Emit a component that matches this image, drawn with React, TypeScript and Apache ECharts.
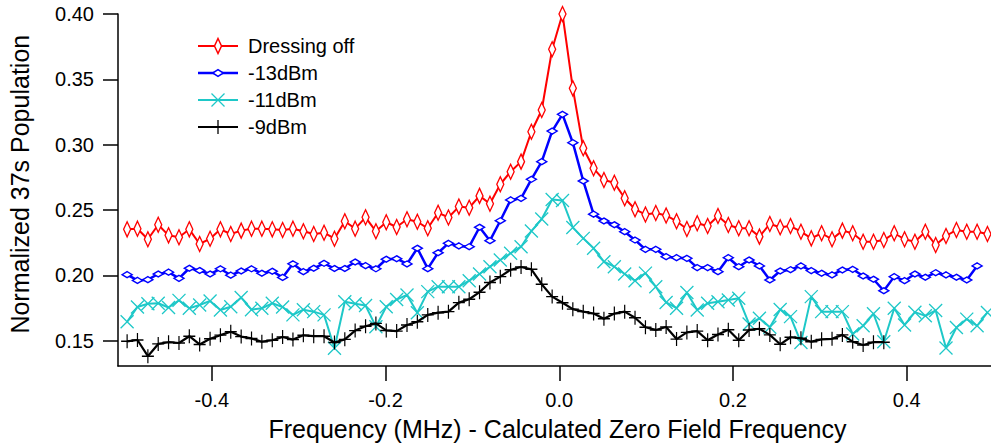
import React, { useEffect, useRef } from "react";
import * as echarts from "echarts";

// Frequency grid (MHz) shared by all traces
const FREQ = [
  -0.4975, -0.4856, -0.4736, -0.4617, -0.4498, -0.4378, -0.4259, -0.414, -0.402, -0.3901,
  -0.3782, -0.3662, -0.3543, -0.3424, -0.3304, -0.3185, -0.3066, -0.2946, -0.2827, -0.2708,
  -0.2588, -0.2469, -0.235, -0.223, -0.2111, -0.1992, -0.1872, -0.1753, -0.1634, -0.1514,
  -0.1395, -0.1276, -0.1156, -0.1037, -0.0918, -0.0798, -0.0679, -0.056, -0.044, -0.0321,
  -0.0202, -0.0082, 0.0037, 0.0156, 0.0276, 0.0395, 0.0514, 0.0634, 0.0753, 0.0872,
  0.0992, 0.1111, 0.123, 0.135, 0.1469, 0.1588, 0.1708, 0.1827, 0.1946, 0.2066,
  0.2185, 0.2304, 0.2424, 0.2543, 0.2662, 0.2782, 0.2901, 0.302, 0.314, 0.3259,
  0.3378, 0.3498, 0.3617, 0.3736, 0.3856, 0.3975, 0.4094, 0.4214, 0.4333, 0.4452,
  0.4572, 0.4691, 0.481, 0.4929,
];

const DRESSING_OFF = [
  0.2352, 0.2357, 0.2276, 0.2387, 0.2306, 0.2291, 0.2352, 0.224, 0.228, 0.2352,
  0.2316, 0.2342, 0.2357, 0.2357, 0.2352, 0.2347, 0.2357, 0.2337, 0.2316, 0.2326,
  0.228, 0.2414, 0.2357, 0.2444, 0.2337, 0.2406, 0.237, 0.2429, 0.241, 0.236,
  0.2479, 0.2443, 0.2526, 0.2517, 0.2608, 0.2548, 0.2697, 0.2793, 0.287, 0.3099,
  0.3265, 0.373, 0.4, 0.3431, 0.2972, 0.2819, 0.2729, 0.2709, 0.259, 0.2506,
  0.2465, 0.2477, 0.2458, 0.2414, 0.2355, 0.2398, 0.2377, 0.2454, 0.2385, 0.236,
  0.236, 0.2296, 0.2393, 0.2368, 0.2377, 0.2334, 0.2283, 0.2322, 0.2276, 0.2342,
  0.2322, 0.2257, 0.2257, 0.227, 0.2322, 0.2276, 0.2257, 0.2334, 0.2232, 0.2301,
  0.2347, 0.2334, 0.2334, 0.2316,
];

const DBM_13 = [
  0.2005, 0.1961, 0.1967, 0.201, 0.2024, 0.1977, 0.2054, 0.2037, 0.201, 0.205,
  0.2001, 0.2033, 0.205, 0.2016, 0.2031, 0.1984, 0.2088, 0.2028, 0.2054, 0.2092,
  0.2052, 0.2052, 0.2102, 0.2074, 0.205, 0.2123, 0.2127, 0.2087, 0.2207, 0.2051,
  0.2173, 0.2245, 0.2225, 0.2219, 0.2368, 0.2265, 0.2418, 0.2577, 0.2589, 0.2735,
  0.287, 0.3104, 0.3232, 0.3015, 0.2722, 0.2468, 0.2416, 0.2387, 0.2334, 0.227,
  0.2199, 0.2199, 0.2143, 0.2135, 0.213, 0.2059, 0.2059, 0.2028, 0.2135, 0.2066,
  0.2117, 0.2072, 0.1964, 0.2033, 0.2043, 0.2072, 0.2036, 0.2016, 0.2003, 0.2041,
  0.2046, 0.1995, 0.197, 0.1882, 0.199, 0.1959, 0.201, 0.1985, 0.202, 0.2003,
  0.1985, 0.1964, 0.2072,
];

const DBM_11 = [
  0.1645, 0.1758, 0.1783, 0.1786, 0.1754, 0.1808, 0.1748, 0.1773, 0.1804, 0.1735,
  0.176, 0.183, 0.1737, 0.1748, 0.1786, 0.1758, 0.1697, 0.1737, 0.1722, 0.1697,
  0.1442, 0.1798, 0.1783, 0.1769, 0.1607, 0.176, 0.1815, 0.185, 0.1714, 0.1875,
  0.1913, 0.1913, 0.1913, 0.1959, 0.201, 0.2066, 0.2117, 0.2169, 0.2219, 0.2339,
  0.2431, 0.258, 0.2573, 0.2366, 0.2283, 0.2207, 0.2104, 0.2066, 0.201, 0.1959,
  0.2017, 0.1913, 0.1792, 0.1748, 0.1869, 0.1735, 0.1786, 0.1798, 0.1811, 0.1824,
  0.1628, 0.1671, 0.1602, 0.1739, 0.1684, 0.1486, 0.1837, 0.1722, 0.1722, 0.1722,
  0.1551, 0.1614, 0.1706, 0.1492, 0.1748, 0.162, 0.1718, 0.169, 0.1731, 0.1444,
  0.1601, 0.1665, 0.1614, 0.1716,
];

const DBM_9 = [
  0.1495, 0.1505, 0.1381, 0.1475, 0.1488, 0.1482, 0.1534, 0.1471, 0.1514, 0.1542,
  0.1568, 0.1531, 0.1517, 0.1492, 0.1503, 0.1528, 0.1508, 0.1541, 0.1534, 0.1534,
  0.1486, 0.151, 0.1577, 0.161, 0.1632, 0.1578, 0.1573, 0.162, 0.1645, 0.1697,
  0.1714, 0.1722, 0.1791, 0.1817, 0.1871, 0.1945, 0.199, 0.2043, 0.2064, 0.2046,
  0.1932, 0.1837, 0.179, 0.1741, 0.1722, 0.1708, 0.1668, 0.1707, 0.1722, 0.1675,
  0.1603, 0.1582, 0.1605, 0.1512, 0.1563, 0.1573, 0.1503, 0.1547, 0.1584, 0.1503,
  0.1582, 0.1591, 0.1544, 0.1472, 0.1526, 0.1518, 0.1492, 0.151, 0.1514, 0.1544,
  0.1492, 0.1467, 0.1488, 0.1488,
];

const SERIES_NAMES = ["Dressing off", "-13dBm", "-11dBm", "-9dBm"];
const X_TICKS = [-0.4, -0.2, 0, 0.2, 0.4];
const Y_TICKS = [0.15, 0.2, 0.25, 0.3, 0.35, 0.4];
const X_TITLE = "Frequency (MHz) - Calculated Zero Field Frequency";
const Y_TITLE = "Normalized 37s Population";

const FONT = '"Liberation Sans", Arial, sans-serif';
const COLORS = ["#ff0000", "#0000ff", "#1ec8c8", "#000000"];

const X_PATH = "path://M0,0L12,12M12,0L0,12";
const PLUS_PATH = "path://M6,0L6,14M0,7L12,7";

export default function App() {
  const ref = useRef<HTMLDivElement>(null);

  useEffect(() => {
    if (!ref.current) return;
    const chart = echarts.init(ref.current, null, { renderer: "svg" });

    const toPairs = (vals: number[]) => vals.map((v, i) => [FREQ[i], v]);
    const allVals = [DRESSING_OFF, DBM_13, DBM_11, DBM_9];

    const symbolDefs = [
      { symbol: "diamond", size: [7, 15], fill: "#ffffff", width: 1.5 },
      { symbol: "diamond", size: [10, 6], fill: "#ffffff", width: 1.5 },
      { symbol: X_PATH, size: [13, 13], fill: "none", width: 1.3 },
      { symbol: PLUS_PATH, size: [12, 14], fill: "none", width: 1.3 },
    ];
    const lineWidths = [2, 2.5, 2, 2.2];

    const series = allVals.map((vals, k) => ({
      name: SERIES_NAMES[k],
      type: "line",
      data: toPairs(vals),
      color: COLORS[k],
      symbol: symbolDefs[k].symbol,
      symbolSize: symbolDefs[k].size,
      showAllSymbol: true,
      silent: true,
      lineStyle: { color: COLORS[k], width: lineWidths[k] },
      itemStyle: {
        color: symbolDefs[k].fill,
        borderColor: COLORS[k],
        borderWidth: symbolDefs[k].width,
      },
      emphasis: { disabled: true },
      z: 2 + k,
    }));

    // Legend drawn as graphics
    const legendEls: any[] = [];
    SERIES_NAMES.forEach((name, k) => {
      const y = 46 + 27 * k;
      const cx = 218;
      legendEls.push({
        type: "line",
        shape: { x1: 198, y1: y, x2: 238, y2: y },
        style: { stroke: COLORS[k], lineWidth: lineWidths[k] },
        z: 100,
      });
      if (k === 0 || k === 1) {
        const w = k === 0 ? 3.5 : 5.3;
        const h = k === 0 ? 7.5 : 3.3;
        legendEls.push({
          type: "polygon",
          shape: { points: [[cx, y - h], [cx + w, y], [cx, y + h], [cx - w, y]] },
          style: { fill: "#ffffff", stroke: COLORS[k], lineWidth: 1.5 },
          z: 101,
        });
      } else if (k === 2) {
        legendEls.push({
          type: "line",
          shape: { x1: cx - 6.5, y1: y - 6.5, x2: cx + 6.5, y2: y + 6.5 },
          style: { stroke: COLORS[k], lineWidth: 1.3 },
          z: 101,
        });
        legendEls.push({
          type: "line",
          shape: { x1: cx + 6.5, y1: y - 6.5, x2: cx - 6.5, y2: y + 6.5 },
          style: { stroke: COLORS[k], lineWidth: 1.3 },
          z: 101,
        });
      } else {
        legendEls.push({
          type: "line",
          shape: { x1: cx, y1: y - 7, x2: cx, y2: y + 7 },
          style: { stroke: COLORS[k], lineWidth: 1.3 },
          z: 101,
        });
      }
      legendEls.push({
        type: "text",
        x: 248,
        y: y,
        style: {
          text: name,
          font: `20px ${FONT}`,
          fill: "#000",
          textAlign: "left",
          textVerticalAlign: "middle",
          align: "left",
          verticalAlign: "middle",
        },
        z: 101,
      });
    });

    const titleEls = [
      {
        type: "text",
        x: 557.5,
        y: 428.6,
        style: {
          text: X_TITLE,
          font: `25px ${FONT}`,
          fill: "#000",
          textAlign: "center",
          textVerticalAlign: "middle",
          align: "center",
          verticalAlign: "middle",
        },
      },
      {
        type: "text",
        x: 19.6,
        y: 184.2,
        rotation: Math.PI / 2,
        style: {
          text: Y_TITLE,
          font: `25px ${FONT}`,
          fill: "#000",
          textAlign: "center",
          textVerticalAlign: "middle",
          align: "center",
          verticalAlign: "middle",
        },
      },
    ];

    chart.setOption({
      animation: false,
      backgroundColor: "#ffffff",
      grid: { left: 118, right: 0, top: 14, bottom: 82, containLabel: false },
      xAxis: {
        type: "value",
        min: -0.508,
        max: 0.497,
        axisLine: { show: true, onZero: false, lineStyle: { color: "#000", width: 1.5 } },
        axisTick: {
          show: true,
          inside: false,
          length: 15,
          customValues: X_TICKS,
          lineStyle: { color: "#000", width: 1.5 },
        },
        axisLabel: {
          show: true,
          customValues: X_TICKS,
          margin: 24,
          color: "#000",
          fontSize: 20,
          fontFamily: FONT,
          formatter: (v: number) => (Math.abs(v) < 1e-9 ? "0.0" : v.toFixed(1)),
        },
        splitLine: { show: false },
      },
      yAxis: {
        type: "value",
        min: 0.1306,
        max: 0.4,
        axisLine: { show: true, onZero: false, lineStyle: { color: "#000", width: 1.5 } },
        axisTick: {
          show: true,
          inside: false,
          length: 15,
          customValues: Y_TICKS,
          lineStyle: { color: "#000", width: 1.5 },
        },
        axisLabel: {
          show: true,
          customValues: Y_TICKS,
          margin: 24,
          color: "#000",
          fontSize: 20,
          fontFamily: FONT,
          formatter: (v: number) => v.toFixed(2),
        },
        splitLine: { show: false },
      },
      series,
      graphic: [...legendEls, ...titleEls],
    });

    return () => chart.dispose();
  }, []);

  return (
    <div
      ref={ref}
      style={{ position: "fixed", left: 0, top: 0, width: 991, height: 448, background: "#fff" }}
    />
  );
}
